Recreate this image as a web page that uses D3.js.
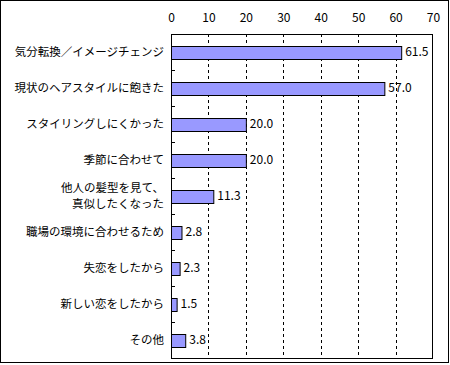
<!DOCTYPE html>
<html>
<head>
<meta charset="utf-8">
<script src="https://cdn.jsdelivr.net/npm/d3@7"></script>
<style>
  body { margin: 0; background: #fff; }
  svg text { font-family: "Noto Sans CJK JP", sans-serif; font-size: 12px; fill: #000; }
  svg text.cat { font-size: 11.5px; }
</style>
</head>
<body>
<script>
var categories = [
    ["気分転換／イメージチェンジ"],
    ["現状のヘアスタイルに飽きた"],
    ["スタイリングしにくかった"],
    ["季節に合わせて"],
    ["他人の髪型を見て、", "真似したくなった"],
    ["職場の環境に合わせるため"],
    ["失恋をしたから"],
    ["新しい恋をしたから"],
    ["その他"]
];
var values = [61.5, 57.0, 20.0, 20.0, 11.3, 2.8, 2.3, 1.5, 3.8];
var xTicks = [0, 10, 20, 30, 40, 50, 60, 70];

var width = 450, height = 365,
    plot = {left: 171, top: 34, right: 433, bottom: 358};

var svg = d3.select("body").append("svg")
    .attr("width", width)
    .attr("height", height);

// outer frame
svg.append("rect")
    .attr("x", 0.5).attr("y", 0.5)
    .attr("width", 448).attr("height", 362)
    .attr("fill", "none")
    .attr("stroke", "#000");

var x = d3.scaleLinear()
    .domain([0, 70])
    .range([plot.left, plot.right]);

var y = d3.scaleBand()
    .domain(d3.range(categories.length))
    .range([plot.top, plot.bottom])
    .paddingInner(0.65)
    .paddingOuter(0.325);

// dashed gridlines
svg.selectAll(".grid")
    .data(xTicks.slice(1, -1))
    .enter()
    .append("line")
    .attr("class", "grid")
    .attr("x1", function(d) { return Math.round(x(d)) + 0.5; })
    .attr("x2", function(d) { return Math.round(x(d)) + 0.5; })
    .attr("y1", plot.top)
    .attr("y2", plot.bottom)
    .attr("stroke", "#000")
    .attr("stroke-dasharray", "3,3");

// top axis labels
var xAxis = svg.append("g")
    .attr("transform", "translate(0," + plot.top + ")")
    .call(d3.axisTop(x).tickValues(xTicks).tickSize(0).tickPadding(12));
xAxis.select(".domain").remove();

// plot frame
svg.append("rect")
    .attr("x", plot.left + 0.5).attr("y", plot.top + 0.5)
    .attr("width", plot.right - plot.left - 1)
    .attr("height", plot.bottom - plot.top)
    .attr("fill", "none")
    .attr("stroke", "#000");

// category boundary ticks
var step = y.step();
svg.selectAll(".ytick")
    .data(d3.range(1, categories.length))
    .enter()
    .append("line")
    .attr("class", "ytick")
    .attr("x1", plot.left)
    .attr("x2", plot.left + 4)
    .attr("y1", function(i) { return Math.round(plot.top + i * step) + 0.5; })
    .attr("y2", function(i) { return Math.round(plot.top + i * step) + 0.5; })
    .attr("stroke", "#000");

// bars
svg.selectAll(".bar")
    .data(values)
    .enter()
    .append("rect")
    .attr("class", "bar")
    .attr("x", x(0) + 0.5)
    .attr("y", function(d, i) { return Math.round(y(i)) + 0.5; })
    .attr("width", function(d) { return x(d) - x(0); })
    .attr("height", Math.round(y.bandwidth()))
    .attr("fill", "#9999ff")
    .attr("stroke", "#000");

// value labels
svg.selectAll(".value")
    .data(values)
    .enter()
    .append("text")
    .attr("class", "value")
    .attr("x", function(d) { return x(d) + 4; })
    .attr("y", function(d, i) { return y(i) + y.bandwidth() / 2; })
    .attr("dy", "0.35em")
    .text(function(d) { return d3.format(".1f")(d); });

// category labels
var labels = svg.selectAll(".cat")
    .data(categories)
    .enter()
    .append("text")
    .attr("class", "cat")
    .attr("text-anchor", "end")
    .attr("transform", function(d, i) {
        return "translate(164," + (y(i) + y.bandwidth() / 2) + ")";
    });

labels.selectAll("tspan")
    .data(function(d) { return d; })
    .enter()
    .append("tspan")
    .attr("x", 0)
    .attr("y", function(d, j, nodes) { return (j - (nodes.length - 1) / 2) * 16.8; })
    .attr("dy", "0.35em")
    .text(function(d) { return d; });
</script>
</body>
</html>
